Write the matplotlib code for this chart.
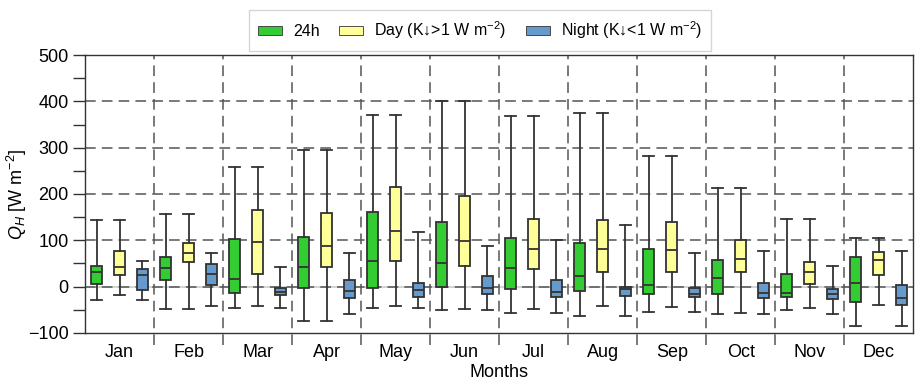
import numpy as np
import matplotlib.pyplot as plt
from matplotlib.patches import Patch

plt.rcParams['font.family'] = ['Liberation Sans', 'DejaVu Sans']
plt.rcParams['mathtext.fontset'] = 'custom'
plt.rcParams['mathtext.rm'] = 'Liberation Sans'
plt.rcParams['mathtext.it'] = 'Liberation Sans:italic'

# ===================== 数据 (W m-2) =====================
months = ['Jan', 'Feb', 'Mar', 'Apr', 'May', 'Jun', 'Jul', 'Aug', 'Sep', 'Oct', 'Nov', 'Dec']

# 24h
all_lo = [-29, -48, -46, -75, -46, -51, -56, -64, -54, -60, -50, -86]
all_q1 = [6, 14, -14, -4, -4, 0, -6, -10, -16, -17, -23, -33]
all_med = [31, 41, 17, 42, 56, 50, 40, 22, 4, 18, -13, 7]
all_q3 = [45, 64, 103, 108, 161, 139, 105, 94, 81, 58, 27, 63]
all_hi = [144, 157, 258, 296, 371, 401, 368, 374, 281, 214, 145, 105]

# Day
day_lo = [-19, -48, -42, -75, -41, -48, -48, -42, -44, -56, -47, -40]
day_q1 = [24, 53, 27, 42, 55, 45, 37, 32, 32, 31, 6, 25]
day_med = [42, 72, 97, 87, 121, 99, 81, 81, 79, 60, 31, 57]
day_q3 = [77, 95, 165, 158, 216, 196, 146, 144, 140, 101, 53, 75]
day_hi = [144, 157, 258, 296, 371, 401, 368, 374, 281, 214, 145, 105]

# Night
night_lo = [-29, -41, -46, -60, -46, -51, -56, -64, -54, -60, -59, -86]
night_q1 = [-7, 3, -19, -24, -22, -15, -22, -20, -23, -24, -26, -40]
night_med = [24, 27, -12, -10, -8, -3, -12, -5, -15, -14, -15, -24]
night_q3 = [37, 49, -3, 14, 8, 22, 15, 0, -4, 8, -6, 4]
night_hi = [56, 73, 42, 73, 117, 88, 101, 132, 72, 77, 45, 76]


def make_stats(lo, q1, med, q3, hi):
    return [{'whislo': lo[i], 'q1': q1[i], 'med': med[i], 'q3': q3[i],
             'whishi': hi[i], 'fliers': []} for i in range(len(lo))]


series = [
    (make_stats(all_lo, all_q1, all_med, all_q3, all_hi), '#33cc33', '24h', -0.33),
    (make_stats(day_lo, day_q1, day_med, day_q3, day_hi), '#ffff99', 'Day (K\u2193>1 W m$^{-2}$)', 0.0),
    (make_stats(night_lo, night_q1, night_med, night_q3, night_hi), '#6699cc', 'Night (K\u2193<1 W m$^{-2}$)', 0.33),
]

# ===================== 绘图 =====================
fig = plt.figure(figsize=(9.16, 3.88), dpi=100)
ax = fig.add_axes([0.093, 0.142, 0.904, 0.716])

x = np.arange(len(months))
edge = '#333333'
grid_kw = dict(color='#555555', linewidth=1.1, linestyle=(0, (7, 4)))

# 网格
ax.axhline(0, color='#cccccc', linewidth=1.2, zorder=0)
for yv in [0, 100, 200, 300, 400]:
    ax.axhline(yv, zorder=0.5, **grid_kw)
for xb in x[:-1] + 0.5:
    ax.axvline(xb, ymin=-0.045, ymax=1, clip_on=False, zorder=0.5, **grid_kw)

handles = []
for stats, color, label, off in series:
    ax.bxp(stats, positions=x + off, widths=0.16, showfliers=False,
           patch_artist=True, manage_ticks=False,
           boxprops=dict(facecolor=color, edgecolor=edge, linewidth=1.3),
           medianprops=dict(color=edge, linewidth=1.3),
           whiskerprops=dict(color=edge, linewidth=1.3),
           capprops=dict(color=edge, linewidth=1.3),
           capwidths=0.16)
    handles.append(Patch(facecolor=color, edgecolor=edge, linewidth=0.6, label=label))

ax.set_xlim(-0.5, 11.5)
ax.set_ylim(-100, 500)
ax.set_xticks(x)
ax.set_xticklabels(months, fontsize=13)
ax.tick_params(axis='x', length=0, pad=8)
ax.set_yticks(np.arange(-100, 501, 100))
ax.set_yticks(np.arange(-50, 500, 100), minor=True)
ax.tick_params(axis='y', which='both', length=9, width=1, labelsize=13, color='#333333', pad=3)
ax.set_xlabel('Months', fontsize=13, labelpad=2)
ax.set_ylabel('$Q_H$ [W m$^{-2}$]', fontsize=13)
ax.yaxis.set_label_coords(-0.068, 0.5)
for sp in ax.spines.values():
    sp.set_color('#333333')
    sp.set_linewidth(1)

fig.legend(handles=handles, loc='upper center', bbox_to_anchor=(0.524, 0.995), ncol=3,
           fontsize=11.5, handlelength=1.5, handleheight=0.4, frameon=True,
           edgecolor='#cccccc', fancybox=False, columnspacing=1.2, handletextpad=0.7,
           borderpad=0.6)

fig.savefig('out.png', dpi=100)
